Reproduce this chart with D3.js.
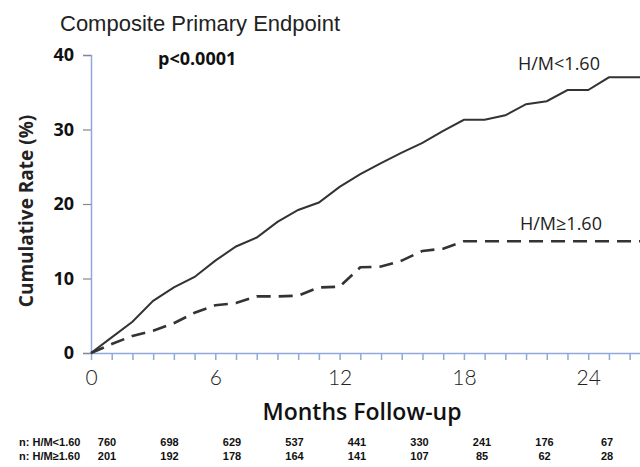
<!DOCTYPE html>
<html>
<head>
<meta charset="utf-8">
<script src="https://cdn.jsdelivr.net/npm/d3@7"></script>
<style>
  body { margin: 0; background: #fff; }
  svg { display: block; }
</style>
</head>
<body>
<svg id="chart" width="640" height="467"></svg>
<script>
// months of follow-up, one vertex per month
const months = [0,1,2,3,4,5,6,7,8,9,10,11,12,13,14,15,16,17,18,19,20,21,22,23,24,25,26,26.5];
const rateLow = [0,2.1,4.2,7.0,8.8,10.2,12.4,14.3,15.5,17.6,19.2,20.2,22.3,24.0,25.5,26.9,28.2,29.8,31.3,31.3,31.9,33.4,33.8,35.3,35.3,37.0,37.0,37.0];
const rateHigh = [0,1.2,2.3,3.0,4.0,5.4,6.4,6.7,7.6,7.6,7.7,8.8,8.9,11.5,11.6,12.4,13.7,14.0,15.0,15.0,15.0,15.0,15.0,15.0,15.0,15.0,15.0,15.0];
const yTicks = [0,10,20,30,40];
const xLabelTicks = [0,6,12,18,24];
const atRiskLow = [760,698,629,537,441,330,241,176,67];
const atRiskHigh = [201,192,178,164,141,107,85,62,28];

const svg = d3.select("#chart");
const axisBlue = "#8fa9dc";
const ink = "#333";

const x = d3.scaleLinear().domain([0, 26.5]).range([91, 640]);
const y = d3.scaleLinear().domain([0, 40]).range([353, 55]);

// title + p value
svg.append("text").attr("x", 60).attr("y", 31)
  .attr("font-family", "Liberation Sans, Arial").attr("font-size", 22).attr("fill", "#222")
  .text("Composite Primary Endpoint");
svg.append("text").attr("x", 158).attr("y", 65)
  .attr("font-family", "Open Sans").attr("font-weight", "bold").attr("font-size", 18).attr("fill", "#111")
  .text("p<0.0001");

// y axis
const gy = svg.append("g").attr("transform", "translate(91,0)")
  .call(d3.axisLeft(y).tickValues(yTicks).tickSize(8).tickPadding(9));
gy.select(".domain").attr("stroke", axisBlue).attr("stroke-width", 1.5);
gy.selectAll(".tick line").attr("stroke", "#888").attr("stroke-width", 1.2);
gy.selectAll(".tick text").attr("font-family", "Open Sans").attr("font-weight", "bold")
  .attr("font-size", 18).attr("fill", "#111");

// x axis, a tick every month
const gx = svg.append("g").attr("transform", "translate(0,353)")
  .call(d3.axisBottom(x).tickValues(d3.range(0, 27)).tickSize(7).tickSizeOuter(0)
    .tickFormat(d => xLabelTicks.includes(d) ? d : ""));
gx.select(".domain").attr("stroke", axisBlue).attr("stroke-width", 1.5);
gx.selectAll(".tick line").attr("stroke", axisBlue).attr("stroke-width", 1.5);
gx.selectAll(".tick text").attr("font-family", "Lato").attr("font-weight", 300)
  .attr("font-size", 21).attr("fill", "#222").attr("dy", "1.05em");

// axis titles
svg.append("text").attr("transform", "translate(33,211) rotate(-90)")
  .attr("text-anchor", "middle").attr("font-family", "Open Sans").attr("font-weight", "bold")
  .attr("font-size", 19).attr("fill", "#222").text("Cumulative Rate (%)");
svg.append("text").attr("x", 362).attr("y", 420).attr("text-anchor", "middle")
  .attr("font-family", "Open Sans").attr("font-weight", 600)
  .attr("font-size", 23).attr("fill", "#111").text("Months Follow-up");

// curves
const line = d3.line().x((d, i) => x(months[i])).y(d => y(d));
svg.append("path").datum(rateLow).attr("d", line)
  .attr("fill", "none").attr("stroke", ink).attr("stroke-width", 2);
svg.append("path").datum(rateHigh).attr("d", line)
  .attr("fill", "none").attr("stroke", ink).attr("stroke-width", 2.6)
  .attr("stroke-dasharray", "14,8");

// curve labels
svg.append("text").attr("x", 518).attr("y", 70)
  .attr("font-family", "Open Sans").attr("font-size", 18).attr("fill", "#222").text("H/M<1.60");
svg.append("text").attr("x", 520).attr("y", 230)
  .attr("font-family", "Open Sans").attr("font-size", 18).attr("fill", "#222").text("H/M\u22651.60");

// numbers at risk
const riskX = d3.scaleLinear().domain([0, atRiskLow.length - 1]).range([107, 607]);
const rows = [["n: H/M<1.60", atRiskLow, 446], ["n: H/M\u22651.60", atRiskHigh, 460]];
rows.forEach(r => {
  const g = svg.append("g").attr("font-family", "Liberation Sans Narrow, Liberation Sans")
    .attr("font-weight", "bold").attr("font-size", 11).attr("fill", "#111");
  g.append("text").attr("x", 19).attr("y", r[2]).text(r[0]);
  g.selectAll(".n").data(r[1]).enter().append("text")
    .attr("x", (d, i) => riskX(i)).attr("y", r[2]).attr("text-anchor", "middle").text(d => d);
});
</script>
</body>
</html>
